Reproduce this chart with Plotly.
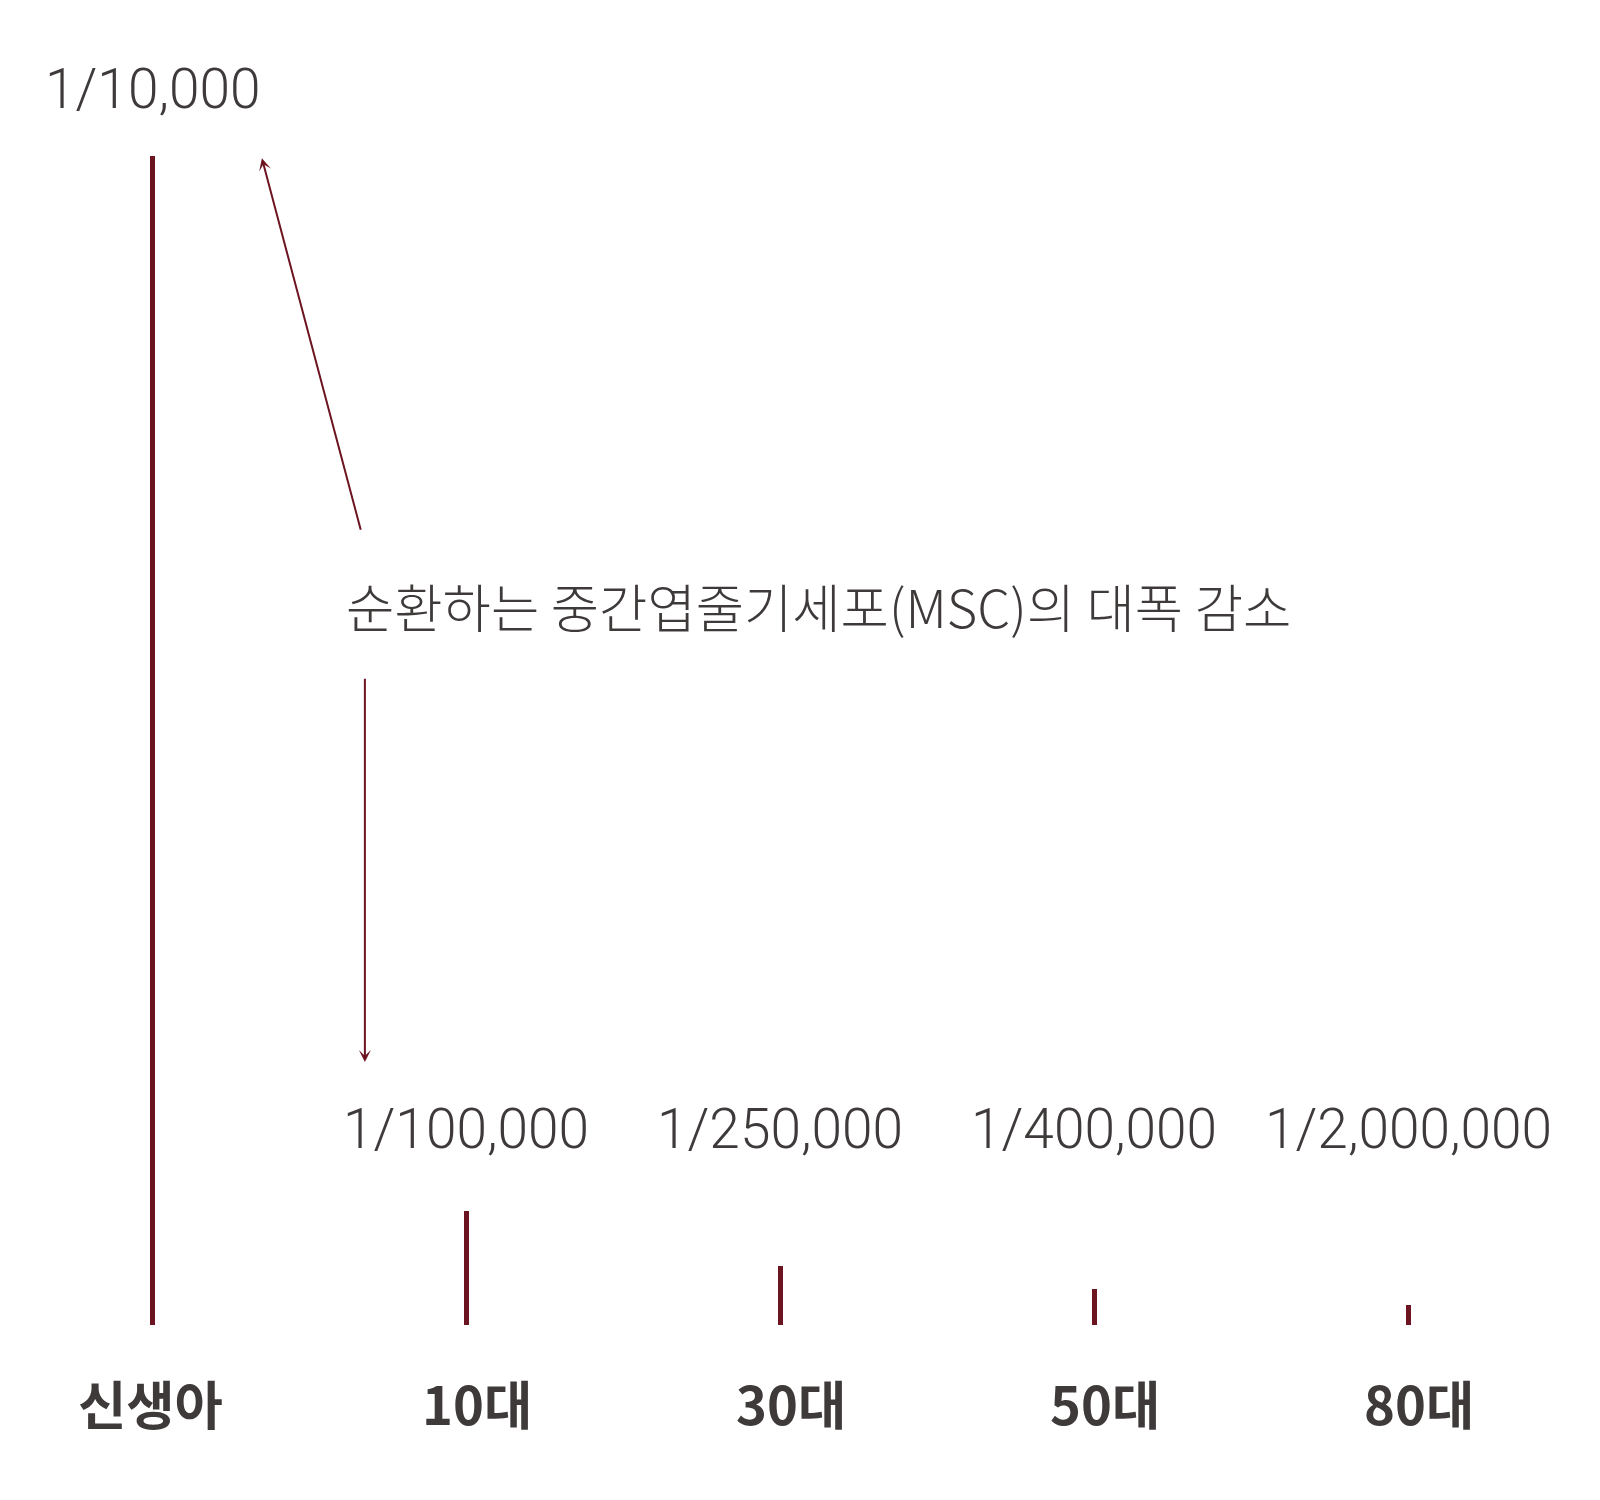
import plotly.graph_objects as go

# ---- data ----
categories = ["신생아", "10대", "30대", "50대", "80대"]
ratio_labels = ["1/10,000", "1/100,000", "1/250,000", "1/400,000", "1/2,000,000"]
bar_heights = [100, 9.75, 5.05, 3.08, 1.71]   # relative visual heights (newborn = 100)
headline = "순환하는 중간엽줄기세포(MSC)의 대폭 감소"

BAR_COLOR = "#6d1421"
TEXT_COLOR = "#3e3a3a"
FONT = "Noto Sans CJK KR"
LIGHT_FONT = "Noto Sans CJK KR Light, Noto Sans CJK KR"
NUM_FONT = "Roboto, Noto Sans CJK KR"

W, H = 1600, 1500
X0_PX, X_STEP = 144, 314          # pixel position of first category and spacing
BASE_PX, Y_UNIT = 1317, 11.69     # baseline pixel and pixels per data unit

x_range = [-X0_PX / X_STEP, (W - X0_PX) / X_STEP]
y_range = [-(H - BASE_PX) / Y_UNIT, BASE_PX / Y_UNIT]

xs = list(range(len(categories)))

fig = go.Figure()
fig.add_trace(go.Bar(
    x=xs, y=bar_heights, width=5 / X_STEP,
    marker=dict(color=BAR_COLOR, line=dict(width=0)),
    hoverinfo="skip",
))

annotations = []
num_font = dict(family=NUM_FONT, size=55, color=TEXT_COLOR, weight=300)
# ratio label above the newborn bar
annotations.append(dict(
    x=xs[0], y=105.7, text=ratio_labels[0], showarrow=False,
    xanchor="center", yanchor="middle", font=num_font,
))
# ratio labels for the other groups, on a common row
for i in xs[1:]:
    annotations.append(dict(
        x=i, y=16.75, text=ratio_labels[i], showarrow=False,
        xanchor="center", yanchor="middle", font=num_font,
    ))
# category labels
for i in xs:
    annotations.append(dict(
        x=i, y=-6.6, text=categories[i], showarrow=False,
        xanchor="center", yanchor="middle", xshift=(-2 if i == 0 else 11),
        font=dict(family=FONT, size=52.5, color=TEXT_COLOR, weight="bold"),
    ))
# headline text
annotations.append(dict(
    x=0.611, y=61.55, text=headline, showarrow=False,
    xanchor="left", yanchor="middle",
    font=dict(family=LIGHT_FONT, size=52.5, color=TEXT_COLOR, weight=300),
))
# arrow up toward the 1/10,000 label
annotations.append(dict(
    x=0.350, y=99.8, ax=0.666, ay=67.9, xref="x", yref="y", axref="x", ayref="y",
    text="", showarrow=True, arrowhead=3, arrowsize=1, arrowwidth=2,
    arrowcolor=BAR_COLOR, standoff=0, startstandoff=0,
))
# arrow down toward the lower labels
annotations.append(dict(
    x=0.678, y=22.5, ax=0.678, ay=55.4, xref="x", yref="y", axref="x", ayref="y",
    text="", showarrow=True, arrowhead=3, arrowsize=1, arrowwidth=2,
    arrowcolor=BAR_COLOR, standoff=0, startstandoff=0,
))

fig.update_layout(
    width=W, height=H,
    margin=dict(l=0, r=0, t=0, b=0),
    paper_bgcolor="white", plot_bgcolor="white",
    showlegend=False,
    xaxis=dict(range=x_range, visible=False, fixedrange=True),
    yaxis=dict(range=y_range, visible=False, fixedrange=True),
    annotations=annotations,
    bargap=0,
)

fig.write_html("out.html", config={"displayModeBar": False})
